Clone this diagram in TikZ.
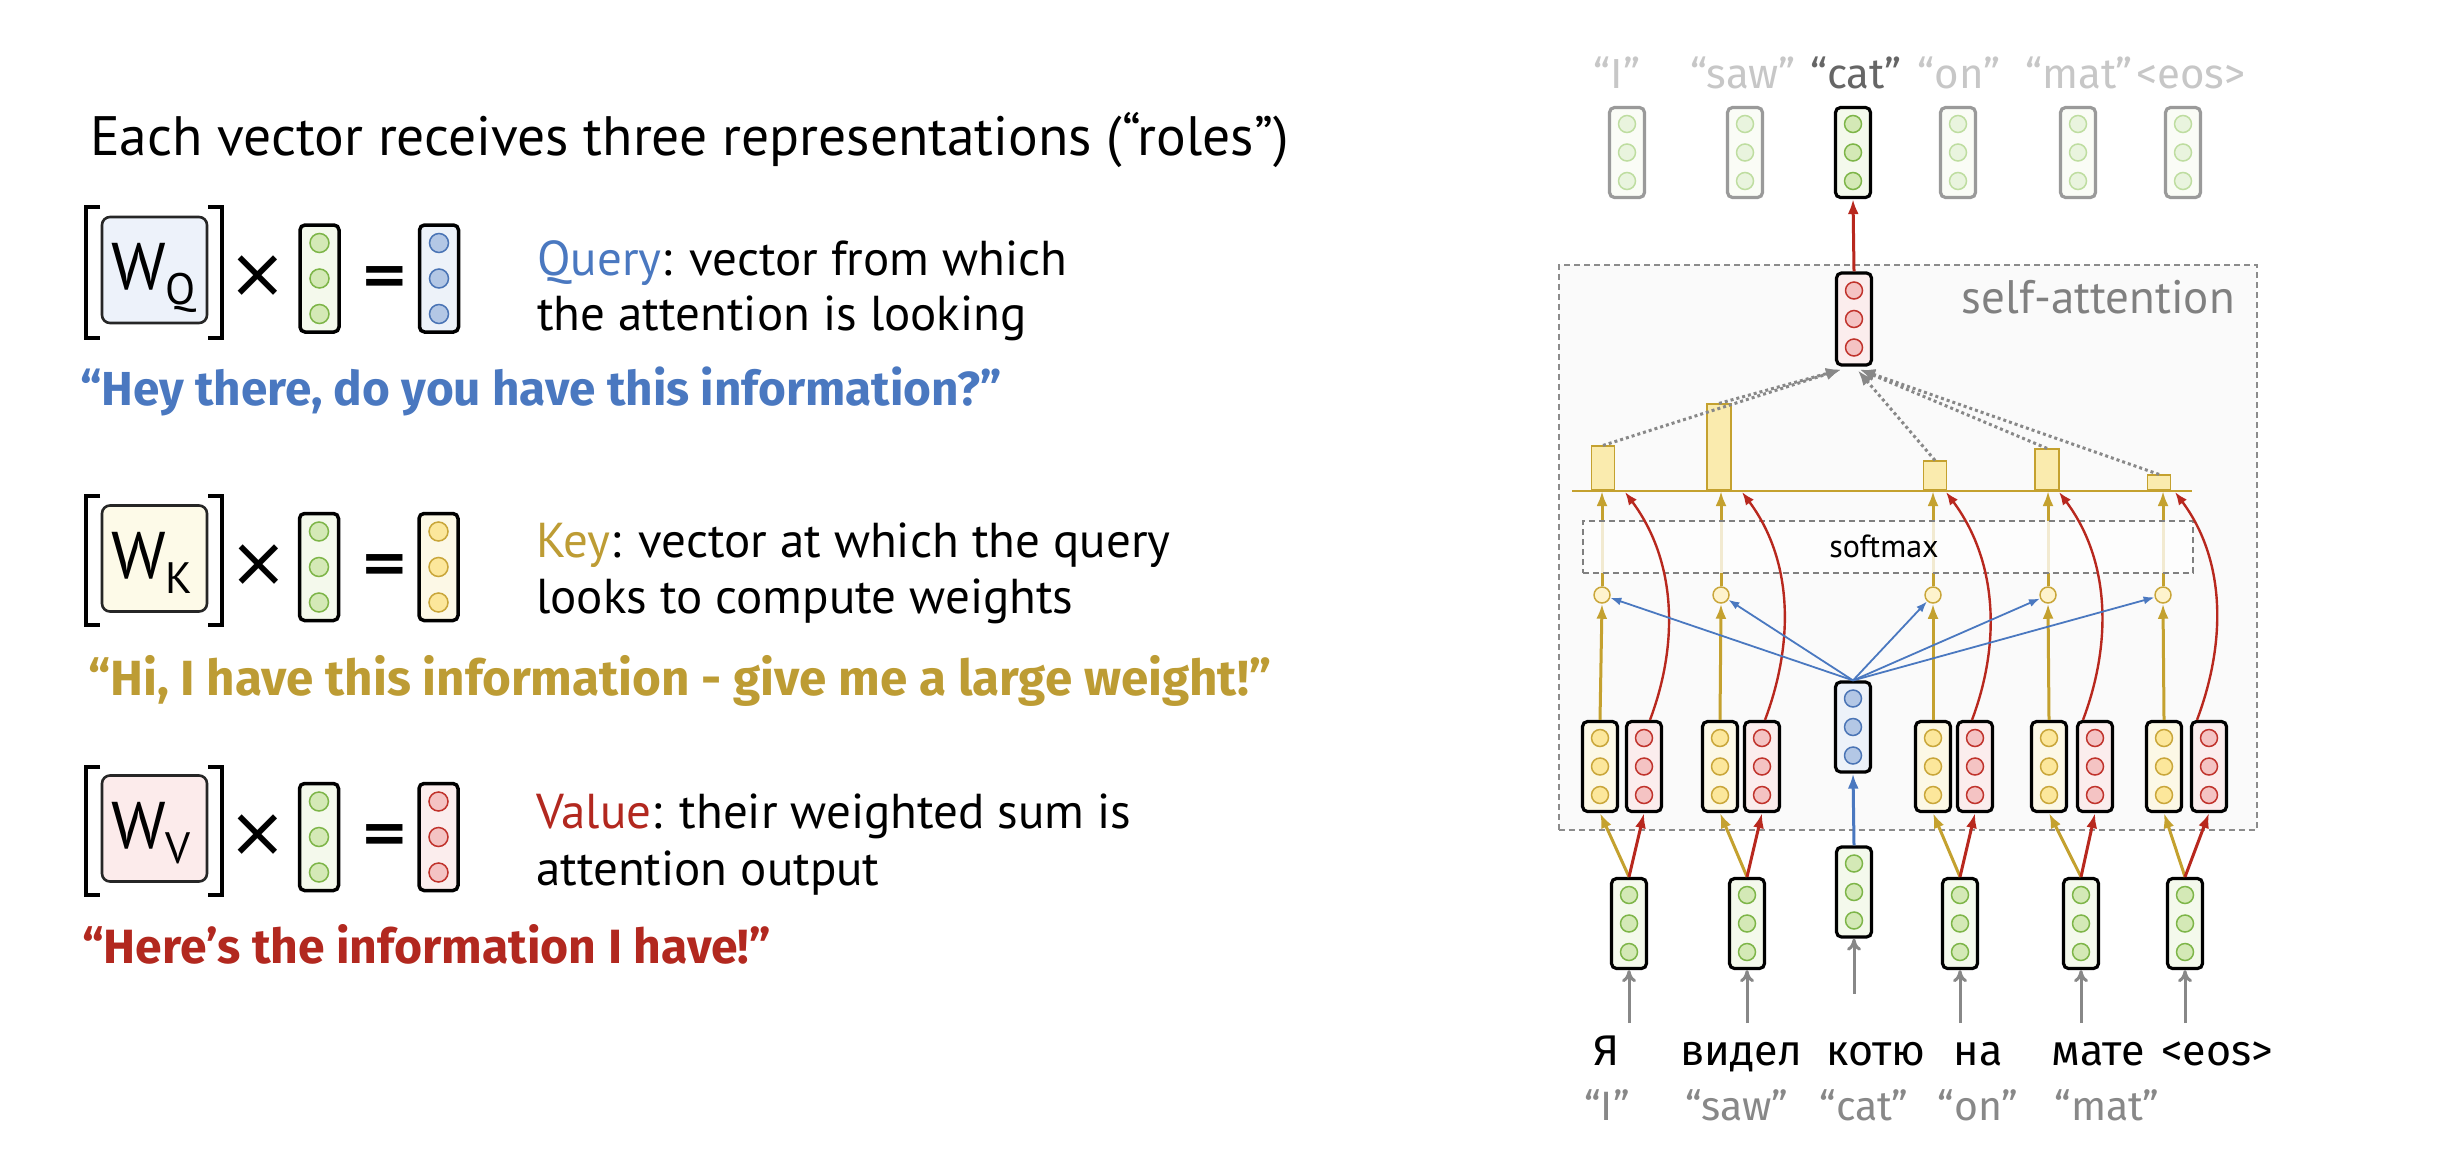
\documentclass[tikz,border=0pt]{standalone}
\usepackage{fontspec}
\setmainfont{PT Sans}
\newfontfamily\comic{Fira Sans}
\newfontfamily\dejavu{DejaVu Sans}
\usetikzlibrary{arrows.meta,calc}
\definecolor{gboxf}{HTML}{F4F9EC}\definecolor{gdotf}{HTML}{D4E9B6}\definecolor{gdotd}{HTML}{7DB548}
\definecolor{bboxf}{HTML}{EDF2F9}\definecolor{bdotf}{HTML}{B3C7E5}\definecolor{bdotd}{HTML}{4A74B5}
\definecolor{yboxf}{HTML}{FCF8E6}\definecolor{ydotf}{HTML}{FCE79B}\definecolor{ydotd}{HTML}{C9A63A}
\definecolor{rboxf}{HTML}{FBEDED}\definecolor{rdotf}{HTML}{F4C3C3}\definecolor{rdotd}{HTML}{C0322B}
\definecolor{tboxd}{HTML}{9A9A9A}\definecolor{tboxf}{HTML}{FAFCF6}\definecolor{tdotf}{HTML}{E9F4DE}\definecolor{tdotd}{HTML}{BEDDA0}
\definecolor{qblue}{HTML}{4A78C0}\definecolor{qgold}{HTML}{BD9C34}\definecolor{qred}{HTML}{B2281F}
\definecolor{agold}{HTML}{C4A12F}\definecolor{ared}{HTML}{B8281E}\definecolor{agray}{HTML}{888888}
\definecolor{barf}{HTML}{FAEBAE}\definecolor{saf}{HTML}{FAFAFA}
\definecolor{wqf}{HTML}{EDF2FA}\definecolor{wkf}{HTML}{FDFAE8}\definecolor{wvf}{HTML}{FCEBEB}
\newcommand\mkvec[6]{%
  \node[#4] (#1) at (#2,#3) {};
  \node[#5] (#1-a) at (#2,#3-#6) {};
  \node[#5] (#1-b) at (#2,#3) {};
  \node[#5] (#1-c) at (#2,#3+#6) {};
}
\tikzset{
  vbox/.style={draw=black, line width=3.2pt, rounded corners=5pt, minimum width=35pt, minimum height=90pt, inner sep=0pt},
  lbox/.style={vbox, minimum width=39pt, minimum height=107pt, line width=3.5pt},
  dot/.style={circle, line width=1.5pt, minimum size=17pt, inner sep=0pt},
  ldot/.style={dot, minimum size=19pt},
  gbox/.style={fill=gboxf}, gdot/.style={fill=gdotf, draw=gdotd},
  bbox/.style={fill=bboxf}, bdot/.style={fill=bdotf, draw=bdotd},
  ybox/.style={fill=yboxf}, ydot/.style={fill=ydotf, draw=ydotd},
  rbox/.style={fill=rboxf}, rdot/.style={fill=rdotf, draw=rdotd},
  tbox/.style={fill=tboxf, draw=tboxd}, tdot/.style={fill=tdotf, draw=tdotd},
  wbox/.style={draw=black!85, line width=2.6pt, rounded corners=8pt, minimum width=105pt, minimum height=106pt, inner sep=0pt},
  brk/.style={line width=3.5pt, miter limit=10},
  titlef/.style={anchor=base west, inner sep=0pt, font=\fontsize{55.5}{62}\selectfont},
  desc/.style={anchor=base west, inner sep=0pt, font=\fontsize{49}{56}\selectfont},
  quotef/.style={anchor=base west, inner sep=0pt},
  wtext/.style={anchor=base west, inner sep=0pt, font=\fontsize{66}{70}\selectfont},
  opf/.style={inner sep=0pt, font=\dejavu\fontsize{70}{74}\selectfont},
  eqf/.style={inner sep=0pt, font=\dejavu\bfseries\fontsize{58}{62}\selectfont},
  toplab/.style={anchor=base, inner sep=0pt, font=\comic\fontsize{42}{48}\selectfont, text=black!22},
  cyr/.style={anchor=base, inner sep=0pt, font=\comic\fontsize{43}{48}\selectfont},
  eng/.style={anchor=base, inner sep=0pt, font=\comic\fontsize{41}{48}\selectfont, text=agray},
  goldarr/.style={draw=agold, line width=3pt, -{Latex[length=15pt,width=11pt]}},
  redarr/.style={draw=ared, line width=3pt, -{Latex[length=15pt,width=11pt]}},
  redcurve/.style={draw=ared, line width=2.4pt, -{Latex[length=13pt,width=10pt]}},
  bluearr/.style={draw=qblue, line width=1.8pt, -{Latex[length=11pt,width=8pt]}},
  bluethick/.style={draw=qblue, line width=3pt, -{Latex[length=15pt,width=11pt]}},
  grayarr/.style={draw=agray, line width=3pt, -{To[length=12pt,width=14pt]}},
  dotarr/.style={draw=agray, line width=3pt, dash pattern=on 3pt off 3pt, -{Latex[length=15pt,width=12pt]}},
  barn/.style={draw=agold, fill=barf, line width=1.6pt, inner sep=0pt, minimum width=23pt, anchor=south},
}
\begin{document}
\begin{tikzpicture}[x=1pt,y=-1pt]
\useasboundingbox (0,0) rectangle (2456,1170);
\fill[white] (0,0) rectangle (2456,1170);

% ---------------- left panel ----------------
\node[titlef] (title) at (90,155) {Each vector receives three representations (“roles”)};

% Query row
\draw[brk] (100,207) -- (86,207) -- (86,338) -- (100,338);
\draw[brk] (208,207) -- (222,207) -- (222,338) -- (208,338);
\node[wbox, fill=wqf] (wq) at (154.5,270) {};
\node[wtext] (wqt) at (111,289) {W\raisebox{-15pt}{\fontsize{44}{48}\selectfont Q}};
\node[opf] (mq) at (258,277) {×};
\mkvec{xq}{319.5}{278.5}{lbox,gbox}{ldot,gdot}{35.5}
\node[eqf] (eq) at (385,281) {=};
\mkvec{q}{439}{278.5}{lbox,bbox}{ldot,bdot}{35.5}
\node[desc] (dq1) at (537,275) {\textcolor{qblue}{Query}: vector from which};
\node[desc] (dq2) at (537,330) {the attention is looking};
\node[quotef, text=qblue, font=\comic\bfseries\fontsize{47.7}{56}\selectfont] (qq) at (80,405) {“Hey there, do you have this information?”};

% Key row
\draw[brk] (100,496) -- (86,496) -- (86,625) -- (100,625);
\draw[brk] (208,496) -- (222,496) -- (222,625) -- (208,625);
\node[wbox, fill=wkf] (wk) at (154.5,558.5) {};
\node[wtext] (wkt) at (111,578) {W\raisebox{-15pt}{\fontsize{44}{48}\selectfont K}};
\node[opf] (mk) at (259,566) {×};
\mkvec{xk}{319}{567}{lbox,gbox}{ldot,gdot}{35.5}
\node[eqf] (ek) at (385,569) {=};
\mkvec{k}{438.5}{567}{lbox,ybox}{ldot,ydot}{35.5}
\node[desc] (dk1) at (536,557) {\textcolor{qgold}{Key}: vector at which the query};
\node[desc] (dk2) at (536,613) {looks to compute weights};
\node[quotef, text=qgold, font=\comic\bfseries\fontsize{49.4}{56}\selectfont] (qk) at (88,695) {“Hi, I have this information - give me a large weight!”};

% Value row
\draw[brk] (100,767) -- (86,767) -- (86,895) -- (100,895);
\draw[brk] (208,767) -- (222,767) -- (222,895) -- (208,895);
\node[wbox, fill=wvf] (wv) at (154.5,828.5) {};
\node[wtext] (wvt) at (111,848) {W\raisebox{-15pt}{\fontsize{44}{48}\selectfont V}};
\node[opf] (mv) at (258,836) {×};
\mkvec{xv}{319}{837}{lbox,gbox}{ldot,gdot}{35.5}
\node[eqf] (ev) at (385,839) {=};
\mkvec{v}{438.5}{837}{lbox,rbox}{ldot,rdot}{35.5}
\node[desc] (dv1) at (536,828) {\textcolor{qred}{Value}: their weighted sum is};
\node[desc] (dv2) at (536,885) {attention output};
\node[quotef, text=qred, font=\comic\bfseries\fontsize{48.1}{56}\selectfont] (qv) at (82,963) {“Here’s the information I have!”};

% ---------------- right panel ----------------
\node[draw=black!45, dash pattern=on 6pt off 4pt, line width=1.5pt, fill=saf,
      minimum width=698pt, minimum height=565pt, anchor=north west, inner sep=0pt] (sa) at (1558,264) {};
\node[anchor=base east, inner sep=0pt, font=\fontsize{47}{52}\selectfont, text=black!50] (satxt) at (2235,313) {self-attention};

% top outputs
\node[toplab] (l1) at (1617,88) {“I”};
\node[toplab] (l2) at (1743,88) {“saw”};
\node[toplab, text=black!60] (l3) at (1856,88) {“cat”};
\node[toplab] (l4) at (1959,88) {“on”};
\node[toplab] (l5) at (2079,88) {“mat”};
\node[toplab] (l6) at (2191,88) {<eos>};
\mkvec{o1}{1627}{152.5}{vbox,tbox}{dot,tdot}{28.5}
\mkvec{o2}{1745}{152.5}{vbox,tbox}{dot,tdot}{28.5}
\mkvec{o3}{1853}{152.5}{vbox,gbox}{dot,gdot}{28.5}
\mkvec{o4}{1958}{152.5}{vbox,tbox}{dot,tdot}{28.5}
\mkvec{o5}{2078}{152.5}{vbox,tbox}{dot,tdot}{28.5}
\mkvec{o6}{2183}{152.5}{vbox,tbox}{dot,tdot}{28.5}

% attention output vector
\mkvec{vo}{1854}{319}{vbox,rbox,minimum height=92pt}{dot,rdot}{28.5}
\draw[redarr] (vo.north) -- (o3.south);

% key / value / query vectors
\mkvec{k1}{1600}{766.5}{vbox,ybox}{dot,ydot}{28.5}
\mkvec{v1}{1644}{766.5}{vbox,rbox}{dot,rdot}{28.5}
\mkvec{k2}{1720}{766.5}{vbox,ybox}{dot,ydot}{28.5}
\mkvec{v2}{1762}{766.5}{vbox,rbox}{dot,rdot}{28.5}
\mkvec{qv}{1853}{727}{vbox,bbox}{dot,bdot}{28.5}
\mkvec{k4}{1933}{766.5}{vbox,ybox}{dot,ydot}{28.5}
\mkvec{v4}{1975}{766.5}{vbox,rbox}{dot,rdot}{28.5}
\mkvec{k5}{2049}{766.5}{vbox,ybox}{dot,ydot}{28.5}
\mkvec{v5}{2095}{766.5}{vbox,rbox}{dot,rdot}{28.5}
\mkvec{k6}{2164}{766.5}{vbox,ybox}{dot,ydot}{28.5}
\mkvec{v6}{2209}{766.5}{vbox,rbox}{dot,rdot}{28.5}

% score circles
\foreach \n/\x in {1/1602,2/1721,4/1933,5/2048,6/2163}{
  \node[dot, ydot, minimum size=16pt, fill=ydotf!50] (s\n) at (\x,595) {};
  \coordinate (bp\n) at (\x,491);
}
% gold lines to baseline (under softmax overlay)
\foreach \n in {1,2,4,5,6}{ \draw[goldarr] (s\n.north) -- (bp\n); }
\foreach \n in {1,2,4,5,6}{ \draw[goldarr] (k\n.north) -- (s\n.south); }

% softmax overlay
\node[draw=black!50, dash pattern=on 6pt off 4pt, line width=1.5pt, fill=white, fill opacity=0.78, text opacity=1,
      minimum width=610pt, minimum height=52pt, anchor=north west, inner sep=0pt] (smx) at (1582,520) {};
\node[inner sep=0pt, font=\fontsize{32}{36}\selectfont] (smt) at (1884,546) {softmax};

% baseline and bars
\coordinate (bl) at (1572,491);
\coordinate (br) at (2192,491);
\draw[draw=agold, line width=2pt] (bl) -- (br);
\node[barn, minimum height=44pt] (b1) at (1603,491) {};
\node[barn, minimum height=86pt, minimum width=24pt] (b2) at (1719,491) {};
\node[barn, minimum height=29pt] (b4) at (1935,491) {};
\node[barn, minimum height=41pt, minimum width=24pt] (b5) at (2047,491) {};
\node[barn, minimum height=15pt] (b6) at (2159,491) {};

% dotted weighted-sum arrows
\draw[dotarr] (b1.north) -- ($(vo.south)+(-13,3)$);
\draw[dotarr] (b2.north) -- ($(vo.south)+(-13,3)$);
\draw[dotarr] (b4.north) -- ($(vo.south)+(4,4)$);
\draw[dotarr] (b5.north) -- ($(vo.south)+(6,3)$);
\draw[dotarr] (b6.north) -- ($(vo.south)+(6,3)$);

% red value curves
\coordinate (e1) at (1625,492);
\coordinate (e2) at (1742,492);
\coordinate (e4) at (1946,492);
\coordinate (e5) at (2059,492);
\coordinate (e6) at (2175,492);
\draw[redcurve] ($(v1.north)+(6,0)$) .. controls +(30,-80) and +(50,67) .. (e1);
\draw[redcurve] ($(v2.north)+(3,0)$) .. controls +(30,-80) and +(50,67) .. (e2);
\draw[redcurve] ($(v4.north)+(-3,0)$) .. controls +(30,-80) and +(50,67) .. (e4);
\draw[redcurve] ($(v5.north)+(-12,0)$) .. controls +(30,-80) and +(50,67) .. (e5);
\draw[redcurve] ($(v6.north)+(-12,0)$) .. controls +(30,-80) and +(50,67) .. (e6);

% query to score circles
\foreach \n in {1,2,4,5,6}{ \draw[bluearr] (qv.north) -- (s\n); }

% input vectors
\mkvec{i1}{1629}{923.5}{vbox,gbox}{dot,gdot}{28.5}
\mkvec{i2}{1747}{923.5}{vbox,gbox}{dot,gdot}{28.5}
\mkvec{i3}{1854}{892}{vbox,gbox}{dot,gdot}{28.5}
\mkvec{i4}{1960}{923.5}{vbox,gbox}{dot,gdot}{28.5}
\mkvec{i5}{2081}{923.5}{vbox,gbox}{dot,gdot}{28.5}
\mkvec{i6}{2185}{923.5}{vbox,gbox}{dot,gdot}{28.5}
\foreach \n in {1,2,4,5,6}{
  \draw[goldarr] (i\n.north) -- (k\n.south);
  \draw[redarr] (i\n.north) -- (v\n.south);
}
\draw[bluethick] (i3.north) -- (qv.south);

% words
\node[cyr] (w1) at (1607,1065) {Я};
\node[cyr] (w2) at (1741,1065) {видел};
\node[cyr] (w3) at (1876,1065) {котю};
\node[cyr] (w4) at (1978,1065) {на};
\node[cyr] (w5) at (2098,1065) {мате};
\node[cyr] (w6) at (2217,1065) {<eos>};
\node[eng] (t1) at (1607,1120) {“I”};
\node[eng] (t2) at (1737,1120) {“saw”};
\node[eng] (t3) at (1864,1120) {“cat”};
\node[eng] (t4) at (1978,1120) {“on”};
\node[eng] (t5) at (2107,1120) {“mat”};
\foreach \n in {1,2,4,5,6}{
  \coordinate (g\n) at ($(i\n.south)+(0,53)$);
  \draw[grayarr] (g\n) -- (i\n.south);
}
\coordinate (g3) at ($(i3.south)+(0,55)$);
\draw[grayarr] (g3) -- (i3.south);
\end{tikzpicture}
\end{document}
